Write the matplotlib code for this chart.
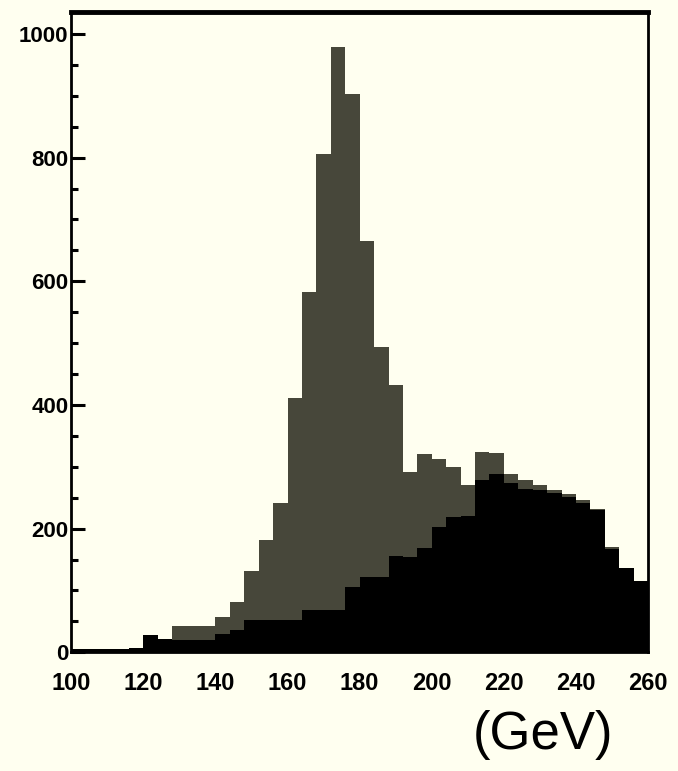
import numpy as np
import matplotlib
matplotlib.use("Agg")
import matplotlib.pyplot as plt

# 4 GeV bins from 100 to 260 GeV
bin_lo, bin_hi, bin_w = 100, 260, 4

# total entries per bin (grey, signal + background)
total = [5, 6, 5, 6, 7,
         28, 22, 42, 42, 43,
         57, 81, 131, 181, 241,
         412, 582, 806, 979, 903,
         665, 493, 432, 291, 320,
         312, 299, 270, 324, 322,
         289, 278, 270, 262, 256,
         246, 232, 170, 136, 116]

# background only (black)
background = [5, 6, 5, 6, 7,
              28, 22, 20, 20, 20,
              30, 36, 52, 52, 52,
              52, 68, 68, 68, 106,
              122, 122, 155, 154, 168,
              203, 219, 220, 278, 289,
              273, 264, 262, 257, 251,
              242, 230, 167, 136, 116]

x_ticks = [100, 120, 140, 160, 180, 200, 220, 240, 260]
y_ticks = [0, 200, 400, 600, 800, 1000]

paper = '#fffff0'
grey = '#47473a'

plt.rcParams['font.family'] = ['Liberation Sans', 'DejaVu Sans']

fig = plt.figure(figsize=(6.78, 7.71), dpi=100, facecolor=paper)
ax = fig.add_axes([0.105, 0.154, 0.851, 0.830], facecolor=paper)

edges = np.arange(bin_lo, bin_hi + bin_w, bin_w)
ax.stairs(total, edges, fill=True, color=grey, lw=0)
ax.stairs(background, edges, fill=True, color='black', lw=0)

ax.set_xlim(bin_lo, bin_hi)
ax.set_ylim(0, 1035)
ax.set_xticks(x_ticks)
ax.set_yticks(y_ticks)
ax.set_yticks(np.arange(0, 1001, 50), minor=True)

ax.tick_params(axis='x', length=0, pad=14, labelsize=17)
ax.tick_params(axis='y', which='major', direction='in', length=10, width=2.2,
               pad=2, labelsize=16)
ax.tick_params(axis='y', which='minor', direction='in', length=5, width=2.2)
for lab in ax.get_xticklabels() + ax.get_yticklabels():
    lab.set_fontweight('bold')

ax.spines['top'].set_linewidth(3.5)
ax.spines['left'].set_linewidth(2)
ax.spines['right'].set_linewidth(2)
ax.spines['bottom'].set_linewidth(2)

fig.text(543 / 678, 1 - 735 / 771, '(GeV)', ha='center', va='center',
         fontsize=38)

fig.savefig('out.png', dpi=100, facecolor=paper)
